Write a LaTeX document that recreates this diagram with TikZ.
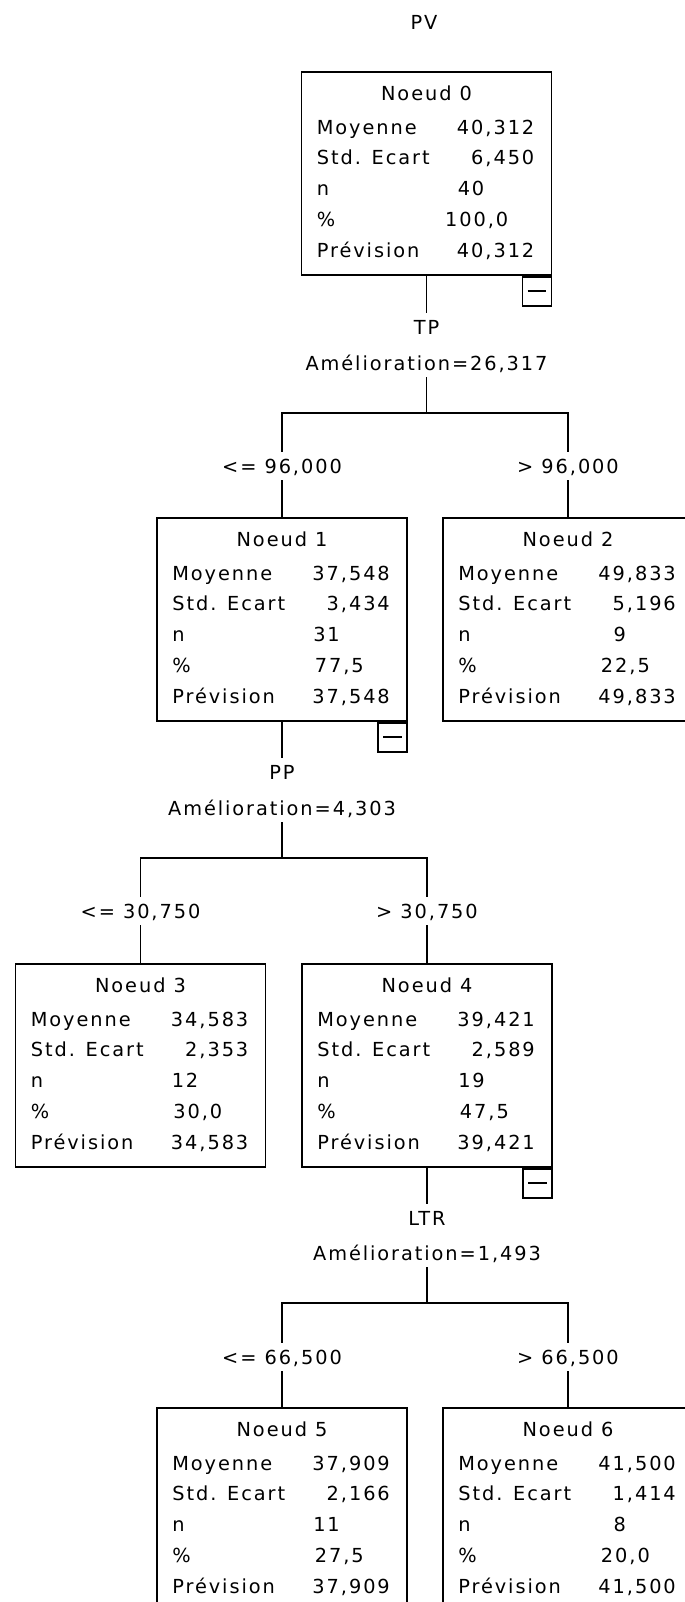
\documentclass[tikz,border=0pt]{standalone}
\usepackage{fontspec}
\setmainfont{DejaVu Sans}[LetterSpace=10]
\usetikzlibrary{calc,positioning}
\newcommand{\spssfont}{\fontsize{14.5}{17}\selectfont}

\tikzset{
  box/.style={draw, line width=1.4pt, minimum width=187.5pt, minimum height=152.25pt, anchor=north, inner sep=0pt},
  collapse/.style={draw, line width=1.4pt, minimum size=21.75pt, anchor=north east, inner sep=0pt},
  txt/.style={inner sep=0pt, text height=10.5pt, text depth=0pt, font=\spssfont},
  split/.style={txt, minimum height=21pt},
  link/.style={line width=1.4pt},
}

% one box of the tree: name, x, top, number, mean, std, n, %, prevision
\newcommand{\noeud}[9]{%
  \node[box] (#1) at (#2,#3) {};
  \node[txt] (#1t) at ($(#1.north)+(0,22)$) {Noeud #4};
  \node[txt, anchor=west] (#1a) at ($(#1.north west)+(16,56)$) {Moyenne};
  \node[txt, anchor=east] (#1av) at ($(#1.north west)+(234,56)$) {#5};
  \node[txt, anchor=west] (#1b) at ($(#1.north west)+(16,86.75)$) {Std. Ecart};
  \node[txt, anchor=east] (#1bv) at ($(#1.north west)+(234,86.75)$) {#6};
  \node[txt, anchor=west] (#1c) at ($(#1.north west)+(16,117.5)$) {n};
  \node[txt, anchor=east] (#1cv) at ($(#1.north west)+(184,117.5)$) {#7};
  \node[txt, anchor=west] (#1d) at ($(#1.north west)+(16,148.25)$) {\%};
  \node[txt, anchor=east] (#1dv) at ($(#1.north west)+(208,148.25)$) {#8};
  \node[txt, anchor=west] (#1e) at ($(#1.north west)+(16,179)$) {Prévision};
  \node[txt, anchor=east] (#1ev) at ($(#1.north west)+(234,179)$) {#9};
}
% the small minus box under a split node
\newcommand{\moins}[1]{%
  \node[collapse] (#1m) at (#1.south east) {};
  \draw[link] ($(#1m.west)+(6,0)$) -- ($(#1m.east)+(-6,0)$);
}

\begin{document}
\begin{tikzpicture}[x=0.75pt, y=-0.75pt]
  \useasboundingbox (0,0) rectangle (685,1602);
  \clip (0,0) rectangle (685,1602);

  \node[txt] (pv) at (424,23) {PV};

  % Nodes
  \noeud{n0}{426.5}{71}{0}{40,312}{6,450}{40}{100,0}{40,312}
  \noeud{n1}{282}{517}{1}{37,548}{3,434}{31}{77,5}{37,548}
  \noeud{n2}{568}{517}{2}{49,833}{5,196}{9}{22,5}{49,833}
  \noeud{n3}{140.5}{963}{3}{34,583}{2,353}{12}{30,0}{34,583}
  \noeud{n4}{427}{963}{4}{39,421}{2,589}{19}{47,5}{39,421}
  \noeud{n5}{282}{1407}{5}{37,909}{2,166}{11}{27,5}{37,909}
  \noeud{n6}{568}{1407}{6}{41,500}{1,414}{8}{20,0}{41,500}
  \moins{n0}
  \moins{n1}
  \moins{n4}

  % Split on TP
  \node[split] (tp) at (426.5,327) {TP};
  \node[split] (am0) at (426.5,363) {Amélioration=26,317};
  \node[split] (c1) at (282,466) {<= 96,000};
  \node[split] (c2) at (568,466) {> 96,000};
  \coordinate (b0) at (426.5,413);
  \draw[link] (n0.south) -- (tp.north);
  \draw[link] (am0.south) -- (b0);
  \draw[link] (c1.north) |- (b0) -| (c2.north);
  \draw[link] (c1.south) -- (n1.north);
  \draw[link] (c2.south) -- (n2.north);

  % Split on PP
  \node[split] (pp) at (282,772) {PP};
  \node[split] (am1) at (282,808) {Amélioration=4,303};
  \node[split] (c3) at (140.5,911) {<= 30,750};
  \node[split] (c4) at (427,911) {> 30,750};
  \coordinate (b1) at (282,858);
  \draw[link] (n1.south) -- (pp.north);
  \draw[link] (am1.south) -- (b1);
  \draw[link] (c3.north) |- (b1) -| (c4.north);
  \draw[link] (c3.south) -- (n3.north);
  \draw[link] (c4.south) -- (n4.north);

  % Split on LTR
  \node[split] (ltr) at (427,1218) {LTR};
  \node[split] (am2) at (427,1253) {Amélioration=1,493};
  \node[split] (c5) at (282,1357) {<= 66,500};
  \node[split] (c6) at (568,1357) {> 66,500};
  \coordinate (b2) at (427,1303);
  \draw[link] (n4.south) -- (ltr.north);
  \draw[link] (am2.south) -- (b2);
  \draw[link] (c5.north) |- (b2) -| (c6.north);
  \draw[link] (c5.south) -- (n5.north);
  \draw[link] (c6.south) -- (n6.north);
\end{tikzpicture}
\end{document}
